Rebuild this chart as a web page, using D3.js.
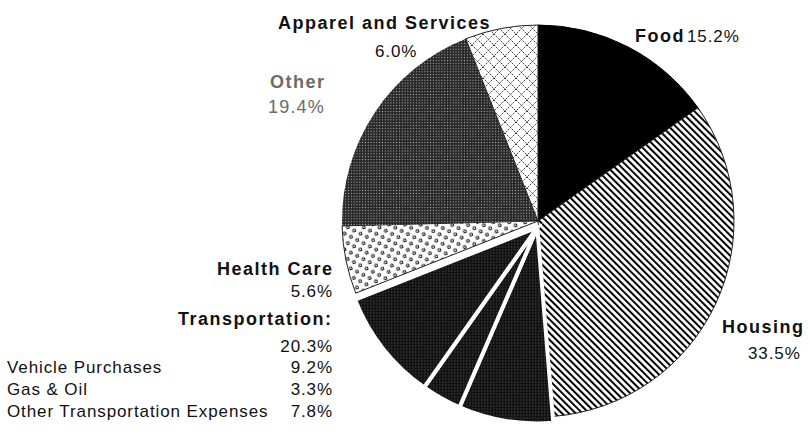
<!DOCTYPE html>
<html>
<head>
<meta charset="utf-8">
<script src="https://cdn.jsdelivr.net/npm/d3@7"></script>
<style>
  html, body { margin: 0; padding: 0; background: #fff; }
  svg { display: block; }
  text { font-family: "Liberation Sans", Arial, sans-serif; }
</style>
</head>
<body>
<svg id="chart" width="810" height="434"></svg>
<script>
// Budget shares, clockwise from 12 o'clock
const categories = ["Food", "Housing", "Other Transportation Expenses", "Gas & Oil",
                    "Vehicle Purchases", "Health Care", "Other", "Apparel and Services"];
const shares = [15.2, 33.5, 7.8, 3.3, 9.2, 5.6, 19.4, 6.0];
const fills = ["food", "housing", "transport", "transport", "transport", "health", "other", "apparel"];

// Transportation breakdown listed under its label
const transportItems = ["Vehicle Purchases", "Gas & Oil", "Other Transportation Expenses"];
const transportValues = [9.2, 3.3, 7.8];

const svg = d3.select("#chart");
const defs = svg.append("defs");
const pct = v => d3.format(".1f")(v) + "%";

// ---- fill patterns ----
// solid black
const pFood = defs.append("pattern").attr("id", "food")
  .attr("patternUnits", "userSpaceOnUse").attr("width", 4).attr("height", 4);
pFood.append("rect").attr("width", 4).attr("height", 4).attr("fill", "#000");

// diagonal stripes
const pHousing = defs.append("pattern").attr("id", "housing")
  .attr("patternUnits", "userSpaceOnUse").attr("width", 4.8).attr("height", 4.8)
  .attr("patternTransform", "rotate(-45)");
pHousing.append("rect").attr("width", 4.8).attr("height", 4.8).attr("fill", "#fff");
pHousing.append("rect").attr("width", 2).attr("height", 4.8).attr("fill", "#000");

// open diamond lattice
const pApp = defs.append("pattern").attr("id", "apparel")
  .attr("patternUnits", "userSpaceOnUse").attr("width", 11).attr("height", 11);
pApp.append("rect").attr("width", 11).attr("height", 11).attr("fill", "#fff");
pApp.append("path").attr("d", "M0,0L11,11M11,0L0,11")
  .attr("stroke", "#333").attr("stroke-width", 1).attr("stroke-dasharray", "1.5,1");

// dark woven texture
const pOther = defs.append("pattern").attr("id", "other")
  .attr("patternUnits", "userSpaceOnUse").attr("width", 4).attr("height", 4)
  .attr("patternTransform", "rotate(45)");
pOther.append("rect").attr("width", 4).attr("height", 4).attr("fill", "#2a2a2a");
[[0, 0], [2, 2]].forEach(([x, y]) =>
  pOther.append("rect").attr("x", x).attr("y", y).attr("width", 1).attr("height", 1).attr("fill", "#b0b0b0"));

// near-black speckle
const pTr = defs.append("pattern").attr("id", "transport")
  .attr("patternUnits", "userSpaceOnUse").attr("width", 3).attr("height", 3);
pTr.append("rect").attr("width", 3).attr("height", 3).attr("fill", "#121212");
pTr.append("rect").attr("x", 1).attr("y", 1).attr("width", 1).attr("height", 1).attr("fill", "#5e5e5e");

// scattered small marks on white
const pHealth = defs.append("pattern").attr("id", "health")
  .attr("patternUnits", "userSpaceOnUse").attr("width", 10).attr("height", 10)
  .attr("patternTransform", "rotate(-18)");
pHealth.append("rect").attr("width", 10).attr("height", 10).attr("fill", "#fff");
pHealth.append("path").attr("d", "M1,1h2.5v2.5h-2.5zM6,6h2.5v2.5h-2.5z")
  .attr("fill", "none").attr("stroke", "#1a1a1a").attr("stroke-width", 1);

// ---- pie ----
const cx = 538, cy = 221, r = 196;
const pie = d3.pie().sort(null).value(d => d)
  .startAngle(0).endAngle(2 * Math.PI);
const arcs = pie(shares);
const arc = d3.arc().innerRadius(0).outerRadius(r);

const g = svg.append("g").attr("transform", `translate(${cx},${cy})`);

// main slices
g.selectAll("path.main")
  .data(arcs.filter((d, i) => fills[i] !== "transport"))
  .join("path")
  .attr("class", "main")
  .attr("d", arc)
  .attr("fill", d => `url(#${fills[d.index]})`)
  .attr("stroke", d => fills[d.index] === "food" ? "#000" : (fills[d.index] === "other" ? "none" : "#222"))
  .attr("stroke-width", 1);

// transportation slices pulled out together, separated by white strokes
const tg = g.append("g").attr("transform", "translate(-0.7,6.5)");
tg.selectAll("path.tr")
  .data(arcs.filter((d, i) => fills[i] === "transport"))
  .join("path")
  .attr("class", "tr")
  .attr("d", arc)
  .attr("fill", "url(#transport)")
  .attr("stroke", "#fff")
  .attr("stroke-width", 4)
  .attr("stroke-linejoin", "miter");

// ---- labels ----
const bold = { "font-weight": "bold", "font-size": "18px", "letter-spacing": "1.5px" };
const reg = { "font-size": "17px", "letter-spacing": "0.9px" };
function label(txt, x, y, style, anchor, color) {
  const t = svg.append("text").attr("x", x).attr("y", y).text(txt)
    .attr("text-anchor", anchor || "start").attr("fill", color || "#111");
  Object.entries(style).forEach(([k, v]) => t.style(k, v));
  return t;
}
const val = name => shares[categories.indexOf(name)];

label("Apparel and Services", 278, 29, bold);
label(pct(val("Apparel and Services")), 375, 57, reg);
label("Other", 270, 88, bold, "start", "#6a6a6a");
label(pct(val("Other")), 268, 113, { "font-size": "18px", "letter-spacing": "1.2px" }, "start", "#6a6a6a");
label("Food", 635, 42, bold);
label(pct(val("Food")), 687, 42, reg);
label("Housing", 722, 333, bold);
label(pct(val("Housing")), 748, 359, reg);
label("Health Care", 217, 275, bold);
label(pct(val("Health Care")), 333, 297, reg, "end");
label("Transportation:", 178, 325, bold);
label(pct(d3.sum(transportValues)), 333, 352, reg, "end");

transportItems.forEach((name, i) => {
  const y = 373 + i * 22;
  label(name, 7, y, reg);
  label(pct(transportValues[i]), 333, y, reg, "end");
});
</script>
</body>
</html>
